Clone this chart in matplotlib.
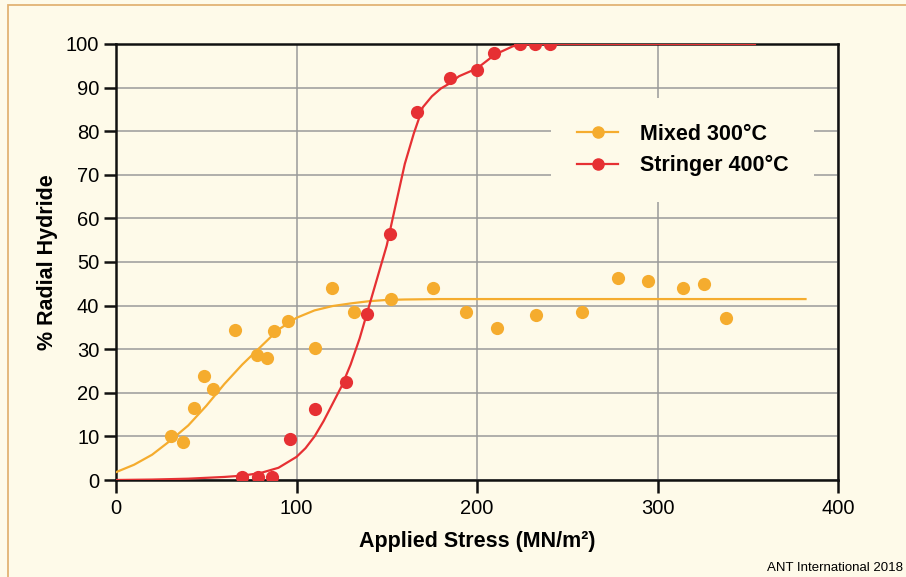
import matplotlib
matplotlib.use("Agg")
import matplotlib.pyplot as plt
from matplotlib.patches import Rectangle

plt.rcParams['font.family'] = ['Liberation Sans', 'DejaVu Sans']

# measured points
mixed_x = [30.5, 37, 43, 48.8, 53.7, 66, 78, 83.7, 87.5, 95.3, 110, 119.7, 132,
           152.2, 175.4, 193.7, 211, 232.9, 258, 278, 295, 314.3, 325.6, 338.1]
mixed_y = [10.1, 8.7, 16.5, 23.9, 20.9, 34.4, 28.7, 28.0, 34.2, 36.5, 30.3, 44.0, 38.5,
           41.5, 44.0, 38.6, 34.9, 37.9, 38.6, 46.4, 45.6, 44.0, 45.0, 37.1]

stringer_x = [69.8, 78.5, 86.4, 96.6, 110.2, 127.3, 138.9, 151.8, 166.6, 185, 199.8,
              209.6, 224, 232.3, 240.4]
stringer_y = [0.8, 0.8, 0.8, 9.3, 16.3, 22.4, 38.1, 56.4, 84.3, 92.1, 94.0,
              97.9, 100, 100, 100]

# fitted curves
mixed_fit_x = [0, 10, 20, 30, 40, 50, 60, 70, 80, 90, 100, 110, 120, 130, 140, 150,
               160, 180, 382]
mixed_fit_y = [1.8, 3.5, 5.8, 9.0, 12.5, 17.0, 22.0, 26.5, 30.5, 34.5, 37.2, 38.9,
               39.9, 40.5, 41.0, 41.3, 41.4, 41.5, 41.5]

stringer_fit_x = [0, 20, 40, 60, 70, 80, 90, 100, 105, 110, 115, 120, 125, 130, 135,
                  140, 145, 150, 155, 160, 165, 170, 175, 180, 185, 190, 200, 210,
                  220, 230, 354]
stringer_fit_y = [0, 0.1, 0.3, 0.7, 1.0, 1.6, 2.8, 5.3, 7.3, 10.0, 13.5, 17.5, 21.5,
                  26.5, 32.5, 39.6, 46.7, 53.8, 63.2, 72.5, 79.5, 85.5, 88.0, 89.8,
                  91.0, 92.6, 94.4, 97.6, 99.5, 100, 100]

bg = '#fefae9'
orange = '#f5ac2e'
red = '#e63033'

fig = plt.figure(figsize=(9.06, 5.77), dpi=100, facecolor=bg)
ax = fig.add_axes([116 / 906, 1 - 480 / 577, 722 / 906, 436 / 577])
ax.set_facecolor(bg)

# thin tan frame along top and left
fig.patches.append(Rectangle((8 / 906, -0.1), 1.2, 1.1 - 5 / 577, transform=fig.transFigure,
                             fill=False, edgecolor='#e2b274', linewidth=1.3))

ax.plot(mixed_fit_x, mixed_fit_y, color=orange, lw=1.6, zorder=3)
ax.plot(stringer_fit_x, stringer_fit_y, color=red, lw=1.6, zorder=3)
ax.plot(mixed_x, mixed_y, 'o', color=orange, ms=9.5, mec='none', zorder=4)
ax.plot(stringer_x, stringer_y, 'o', color=red, ms=9.5, mec='none', zorder=4)

# legend entries
ax.plot([], [], '-o', color=orange, lw=1.6, ms=8, label='Mixed 300°C')
ax.plot([], [], '-o', color=red, lw=1.6, ms=8, label='Stringer 400°C')
leg = ax.legend(loc='center', bbox_to_anchor=(0.785, 0.757), frameon=True,
                facecolor=bg, edgecolor='none', framealpha=1, fancybox=False,
                prop={'weight': 'bold', 'size': 15.5}, handlelength=1.9,
                handletextpad=1.0, borderpad=1.2, labelspacing=0.5)
leg.set_zorder(2.5)

ax.set_xlim(0, 400)
ax.set_ylim(0, 100)
ax.set_xticks([0, 100, 200, 300, 400])
ax.set_yticks(range(0, 101, 10))
ax.grid(True, color='#9a9a9a', lw=1.1, zorder=0)
ax.set_axisbelow(True)
for s in ax.spines.values():
    s.set_linewidth(1.8)
    s.set_color('#111111')
ax.tick_params(axis='both', length=9, width=1.8, labelsize=14.5, color='#111111')
ax.tick_params(axis='x', pad=5)
ax.tick_params(axis='y', pad=3)

ax.set_xlabel('Applied Stress (MN/m²)', fontsize=15.5, fontweight='bold', labelpad=9)
ax.set_ylabel('% Radial Hydride', fontsize=15.5, fontweight='bold', labelpad=6)

fig.text(0.997, 1 - 568 / 577, 'ANT International 2018', fontsize=9.5,
         ha='right', va='center')

fig.savefig('out.png', dpi=100, facecolor=bg)
